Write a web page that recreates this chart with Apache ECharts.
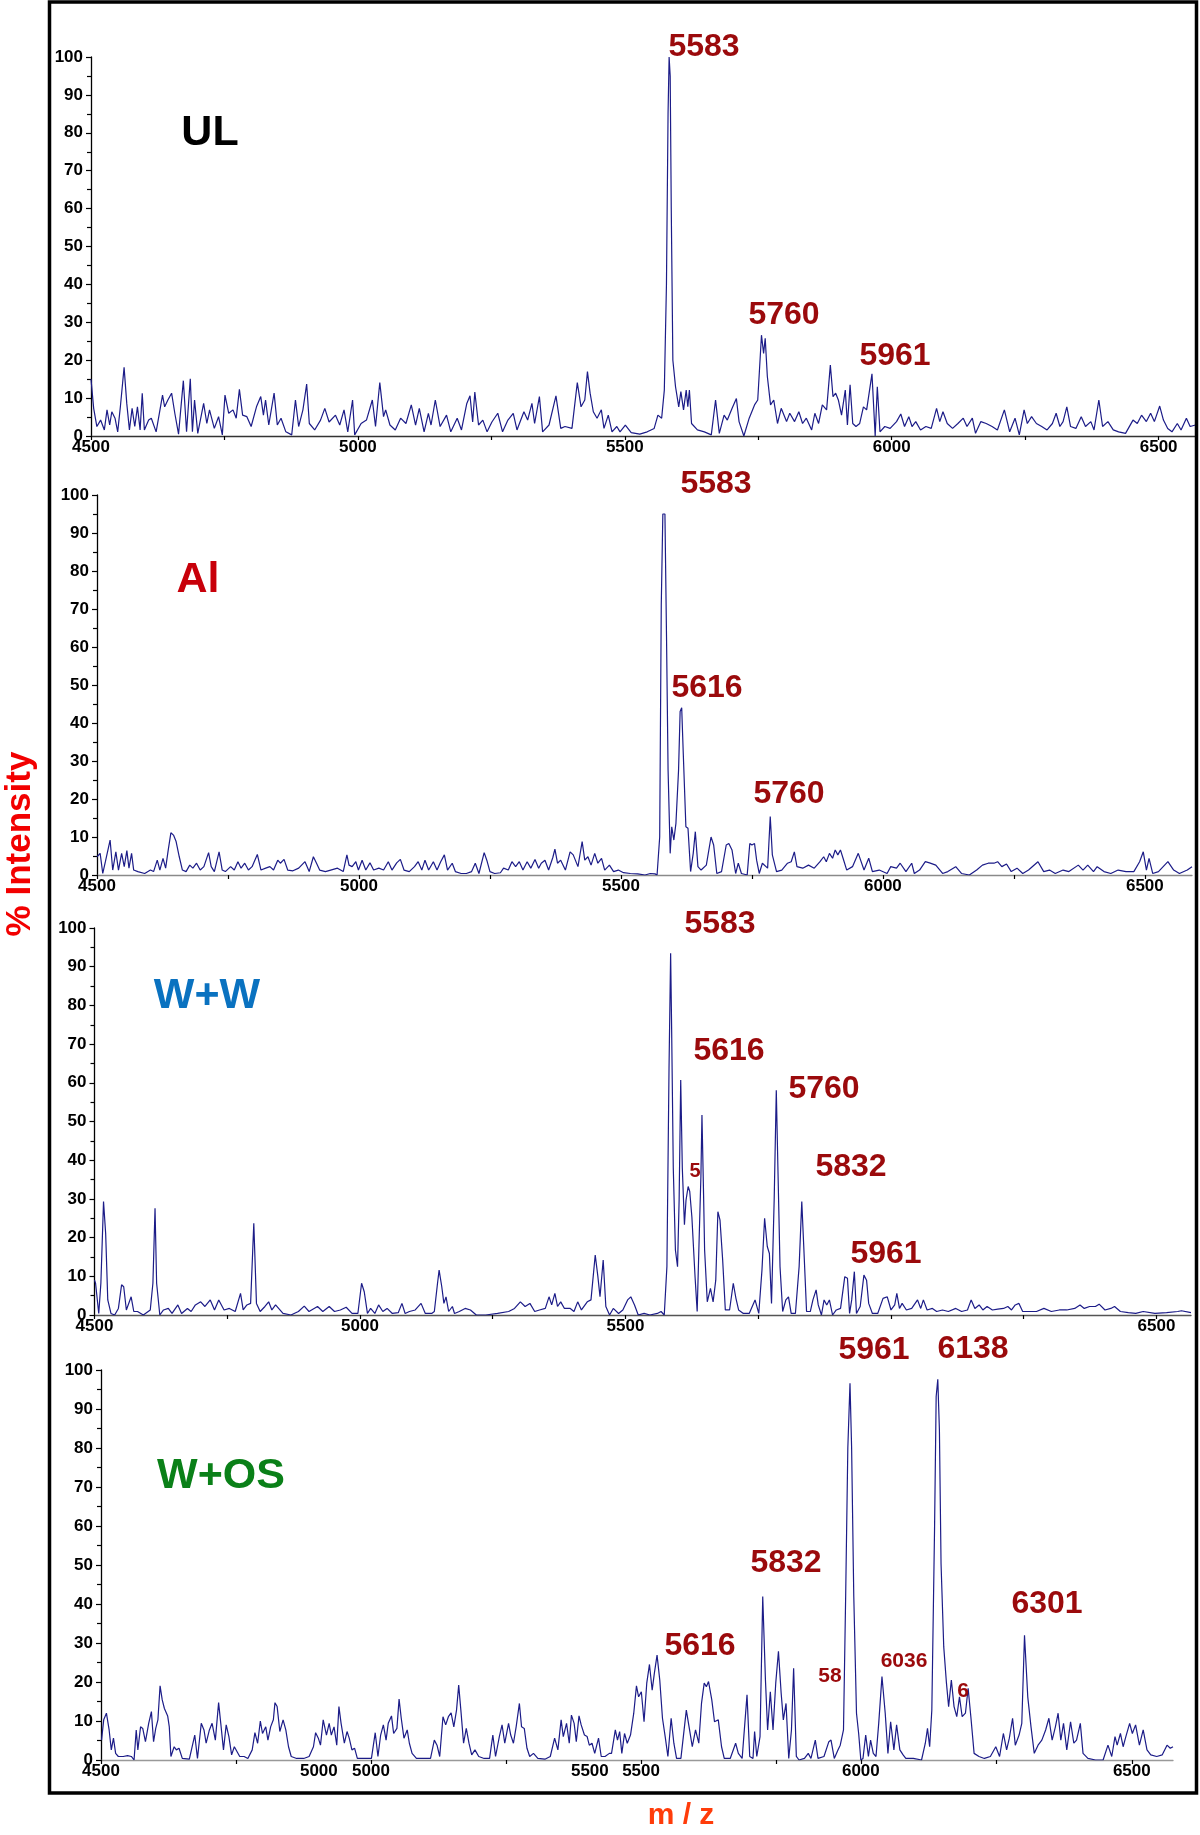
<!DOCTYPE html>
<html><head><meta charset="utf-8">
<script src="https://cdn.jsdelivr.net/npm/echarts@6/dist/echarts.min.js"></script>
<style>html,body{margin:0;padding:0;background:#fff}#c{width:1200px;height:1835px}</style>
</head><body><div id="c"></div>
<script>
// ---------- DATA ----------
const panelNames = ['UL', 'Al', 'W+W', 'W+OS'];
const yTickLabels = [0,10,20,30,40,50,60,70,80,90,100];
const xLabelsStd = [4500,5000,5500,6000,6500];
const xLabelsWW = [4500,5000,5500,6500];
const xTicks250 = [4500,4750,5000,5250,5500,5750,6000,6250,6500];
const xLabelsWOSmain = [5000,5500,6000,6500];
const xTicksWOSmain = [6000,6250,6500];
const xLabelsWOSsecond = [4500,5000,5500];
const xTicksWOSsecond = [4500,4750,5000,5250,5500,5750];

const ulPeaks = ['5583','5760','5961'];
const alPeaks = ['5583','5616','5760'];
const wwPeaks = ['5583','5616','5760','5832','5961'];
const wwMinor = ['5'];
const wosPeaks = ['5961','6138','5832','5616','6301'];
const wosMinor = ['58','6036','6'];

// UL spectrum [m/z, % intensity]
const ulData = [[4500,15],[4505,7.3],[4511,2.5],[4518,4.2],[4525,1.6],[4530,6.9],[4535,2.9],[4539,6.4],[4545,4.7],[4550,1.1],[4555,7.7],[4562,18.1],[4567,8.6],[4572,1.6],[4577,7.3],[4582,2.5],[4587,7.7],[4592,1.6],[4596,11.3],[4600,1.6],[4608,4.2],[4613,4.7],[4622,1.1],[4634,10.8],[4638,7.7],[4644,9.5],[4651,11.3],[4657,6.0],[4664,0.5],[4673,14.6],[4679,1.1],[4686,15.1],[4690,1.1],[4694,9.5],[4700,0.7],[4711,8.6],[4717,3.3],[4722,6.9],[4731,2.0],[4739,5.1],[4746,0.3],[4751,10.8],[4758,6.0],[4766,6.9],[4772,4.7],[4778,12.3],[4784,5.5],[4792,5.1],[4800,2.5],[4810,7.7],[4818,10.4],[4823,5.5],[4827,9.5],[4833,2.9],[4843,11.3],[4849,2.9],[4856,4.7],[4865,1.1],[4876,0.3],[4883,9.5],[4889,2.5],[4897,6.9],[4904,13.7],[4909,3.3],[4919,1.6],[4930,4.2],[4938,7.3],[4946,3.7],[4958,5.5],[4966,2.9],[4974,6.9],[4981,1.1],[4990,9.5],[4994,0.3],[5006,3.3],[5016,4.2],[5027,9.5],[5033,2.5],[5041,14.1],[5048,5.1],[5052,6.9],[5060,2.9],[5070,1.6],[5080,4.7],[5090,3.3],[5100,8.2],[5108,2.9],[5115,7.3],[5124,1.1],[5132,6.0],[5137,2.9],[5145,9.5],[5154,2.5],[5166,5.5],[5174,1.1],[5186,4.7],[5194,1.6],[5204,8.6],[5210,10.6],[5215,3.7],[5219,11.6],[5226,2.9],[5234,4.2],[5242,1.1],[5251,3.7],[5262,6.0],[5271,1.1],[5281,4.2],[5291,6.0],[5298,1.6],[5311,6.4],[5318,4.2],[5326,8.6],[5331,3.3],[5340,10.4],[5346,1.1],[5358,2.9],[5371,10.6],[5380,2.0],[5388,2.5],[5401,2.0],[5411,14.1],[5418,7.7],[5425,9.5],[5430,17.0],[5435,11.3],[5441,6.4],[5448,4.7],[5456,6.9],[5461,2.0],[5469,5.5],[5476,1.1],[5485,2.5],[5491,1.1],[5501,2.9],[5512,0.9],[5528,0.5],[5542,1.1],[5555,2.0],[5562,5.5],[5569,4.7],[5574,12.1],[5578,40],[5581,85],[5583,100],[5585,95],[5587,60],[5590,20],[5595,13.0],[5601,7.7],[5605,11.7],[5610,6.9],[5615,12.1],[5618,7.7],[5621,12.1],[5625,3.3],[5636,1.6],[5649,1.1],[5662,0.3],[5670,9.5],[5677,0.7],[5686,5.5],[5692,4.2],[5701,7.3],[5709,9.9],[5714,3.8],[5723,0],[5733,4.7],[5743,8.2],[5749,9.5],[5756,26.6],[5760,21.8],[5763,25.8],[5767,15.7],[5773,8.2],[5779,9.5],[5786,3.3],[5793,7.3],[5803,3.8],[5809,6.0],[5818,3.8],[5826,6.4],[5833,3.3],[5840,4.7],[5850,1.6],[5856,6.0],[5863,3.3],[5870,8.2],[5878,6.9],[5885,18.7],[5890,10.4],[5895,11.3],[5900,9.5],[5906,5.5],[5913,12.1],[5917,2.9],[5922,13.5],[5927,3.3],[5933,2.5],[5940,3.3],[5947,7.7],[5953,6.9],[5963,16.4],[5969,0],[5973,13.0],[5978,1.1],[5987,2.5],[5997,2.0],[6009,3.8],[6017,5.8],[6024,2.5],[6032,5.1],[6038,2.5],[6045,3.8],[6054,1.6],[6064,2.5],[6074,2.0],[6084,7.3],[6090,3.8],[6096,6.4],[6104,3.3],[6114,2.0],[6124,3.3],[6134,4.7],[6141,2.5],[6151,4.7],[6157,0.7],[6167,3.8],[6177,3.3],[6188,2.5],[6198,1.6],[6211,6.9],[6221,1.1],[6231,4.7],[6239,0.3],[6248,6.9],[6254,3.3],[6262,5.1],[6271,3.3],[6281,2.5],[6291,1.6],[6301,3.3],[6308,6.0],[6315,2.5],[6321,3.8],[6328,7.7],[6335,2.5],[6345,2.0],[6355,5.1],[6363,2.5],[6373,3.8],[6379,1.6],[6388,9.5],[6395,2.5],[6405,3.8],[6415,1.6],[6425,1.1],[6438,0.7],[6452,4.2],[6460,3.3],[6468,5.5],[6477,3.8],[6485,6.0],[6492,3.8],[6502,7.9],[6509,4.2],[6517,2.0],[6525,1.1],[6535,3.3],[6542,1.6],[6552,4.7],[6559,2.5],[6569,2.9]];

// Al spectrum
const alData = [[4500,4.8],[4506,5.7],[4511,0.4],[4516,3.5],[4525,9.2],[4530,1.3],[4536,6.1],[4541,1.3],[4547,5.7],[4552,2.2],[4557,6.4],[4561,1.8],[4566,5.7],[4570,1.3],[4578,0.9],[4591,0.4],[4602,1.3],[4608,0.9],[4615,3.9],[4620,1.3],[4626,4.4],[4631,1.8],[4636,6.6],[4641,11.1],[4646,10.5],[4651,8.8],[4657,4.8],[4663,1.3],[4670,0.9],[4677,2.6],[4683,1.8],[4690,3.1],[4697,1.3],[4704,2.2],[4713,5.9],[4718,2.2],[4724,0.9],[4733,6.1],[4739,1.3],[4745,0.9],[4755,2.2],[4762,1.3],[4769,3.5],[4775,1.8],[4782,3.1],[4789,1.3],[4796,2.2],[4806,5.4],[4813,1.3],[4822,1.8],[4830,2.2],[4837,1.3],[4845,3.9],[4850,3.1],[4857,4.1],[4864,1.3],[4874,1.1],[4885,1.8],[4897,3.5],[4905,0.9],[4913,4.8],[4919,3.1],[4925,1.3],[4936,0.9],[4946,1.3],[4959,1.8],[4970,0.9],[4977,5.3],[4981,2.6],[4987,2.2],[4994,3.5],[4999,1.3],[5006,3.9],[5013,1.3],[5021,3.2],[5028,1.3],[5038,1.8],[5047,1.3],[5056,3.5],[5063,1.3],[5072,3.2],[5079,4.1],[5086,1.3],[5096,0.9],[5106,2.2],[5113,3.5],[5120,1.3],[5126,3.9],[5133,1.3],[5142,3.5],[5149,1.3],[5156,3.5],[5163,5.3],[5169,1.3],[5178,3.1],[5184,0.9],[5195,0.4],[5205,0.4],[5215,0.9],[5222,3.1],[5229,0.4],[5239,5.9],[5244,3.9],[5250,0.9],[5259,0.4],[5270,0.6],[5276,1.8],[5285,1.3],[5292,3.5],[5299,2.2],[5306,3.5],[5313,1.3],[5321,3.5],[5328,1.8],[5336,4.1],[5343,1.8],[5348,3.1],[5355,3.9],[5362,1.3],[5370,4.6],[5374,6.8],[5379,3.1],[5385,3.9],[5394,1.3],[5403,6.1],[5409,5.3],[5418,2.2],[5426,8.8],[5431,3.9],[5437,4.8],[5443,2.6],[5450,5.7],[5456,3.1],[5463,4.4],[5469,1.3],[5478,2.6],[5486,0.9],[5495,1.3],[5505,0.6],[5518,0.4],[5532,0.3],[5546,0],[5556,0.4],[5565,0.3],[5569,0],[5574,10],[5577,71],[5580,95],[5584,95],[5587,63],[5590,27.6],[5594,5.7],[5597,12.7],[5601,9.2],[5605,13.6],[5610,27.6],[5613,43],[5616,44],[5619,32],[5624,12.7],[5628,12.3],[5633,0.9],[5638,5.7],[5642,11.4],[5647,2.2],[5653,1.3],[5663,2.6],[5672,10],[5677,7.9],[5683,0.4],[5692,0.9],[5701,7.9],[5706,8.3],[5712,6.6],[5719,0.4],[5724,3.1],[5730,0.4],[5741,0],[5746,8.3],[5750,7.9],[5755,8.3],[5759,3.9],[5764,0.4],[5770,3.1],[5780,1.8],[5785,15.4],[5789,5.3],[5792,4.8],[5797,0.9],[5807,1.3],[5818,3.1],[5825,3.5],[5831,6.1],[5836,2.2],[5847,1.8],[5858,2.6],[5869,1.8],[5880,3.5],[5887,4.8],[5892,3.5],[5898,5.7],[5904,4.4],[5909,6.6],[5914,5.3],[5919,6.6],[5924,4.4],[5931,1.3],[5942,2.2],[5953,5.7],[5964,1.3],[5973,4.4],[5980,0.9],[5993,1.3],[6008,0.4],[6015,2.2],[6026,1.8],[6033,3.1],[6044,0.9],[6055,3.1],[6060,0.4],[6070,1.3],[6081,3.5],[6089,3.2],[6101,2.6],[6114,0.4],[6124,0.9],[6139,2.2],[6150,0.4],[6165,0],[6179,1.3],[6190,2.6],[6201,3.1],[6212,3.1],[6219,3.5],[6227,2.2],[6236,2.9],[6245,0.9],[6256,1.8],[6267,0.4],[6278,1.3],[6296,3.5],[6307,0.9],[6318,1.3],[6329,0.4],[6344,1.3],[6355,0.9],[6373,2.6],[6382,1.3],[6391,2.6],[6402,0.9],[6409,2.2],[6422,0.9],[6435,0.4],[6449,1.3],[6464,0.9],[6479,0.9],[6490,3.5],[6497,6.1],[6503,1.3],[6508,4.4],[6515,0.4],[6526,0.9],[6544,3.5],[6555,1.3],[6566,0.4],[6581,1.3],[6590,2.2]];

// W+W spectrum
const wwData = [[4500,9],[4502,8.2],[4508,0.4],[4512,8.2],[4517,29.3],[4521,21.1],[4525,3.9],[4531,0.4],[4538,0],[4545,1.7],[4551,7.8],[4555,7.3],[4560,1.3],[4569,4.7],[4574,0.9],[4581,0.9],[4592,0],[4605,1.3],[4610,8.2],[4614,27.6],[4617,8.2],[4623,0],[4630,1.3],[4639,1.7],[4646,0.4],[4657,2.6],[4664,0.4],[4675,1.7],[4682,0.9],[4690,2.6],[4700,3.4],[4708,2.2],[4718,3.9],[4726,1.3],[4734,3.9],[4744,1.3],[4754,1.7],[4765,0.9],[4775,5.6],[4780,1.3],[4787,2.6],[4794,3.0],[4800,23.7],[4805,3.0],[4812,0.9],[4821,2.2],[4828,3.4],[4834,1.3],[4841,2.6],[4855,0.4],[4870,0],[4884,0.9],[4895,2.3],[4904,0.9],[4920,2.2],[4930,0.9],[4942,2.2],[4952,0.9],[4963,1.3],[4974,2.0],[4985,0.4],[4996,0.4],[5003,8.2],[5008,6.0],[5014,0.4],[5020,1.7],[5028,0.4],[5035,2.6],[5043,0.9],[5051,1.7],[5061,0.4],[5072,0.6],[5079,3.0],[5085,0.4],[5093,0.9],[5104,1.3],[5115,3.0],[5123,0.4],[5135,0.4],[5140,0.9],[5146,8.2],[5149,11.6],[5154,7.3],[5158,3.0],[5162,4.7],[5167,0.9],[5174,2.2],[5178,0.4],[5187,0.9],[5198,1.7],[5208,1.3],[5219,0],[5237,0],[5259,0.4],[5280,0.9],[5291,1.7],[5302,3.4],[5311,2.2],[5320,3.0],[5329,0.9],[5338,1.3],[5349,1.7],[5356,4.7],[5361,2.6],[5367,5.6],[5372,2.2],[5378,3.4],[5385,1.7],[5396,1.7],[5403,0.9],[5410,3.4],[5417,1.3],[5428,3.4],[5435,3.9],[5443,15.5],[5448,9.9],[5452,4.7],[5458,14.2],[5463,2.2],[5470,0],[5477,1.7],[5487,0.4],[5495,1.3],[5504,3.9],[5510,4.7],[5517,2.6],[5524,0],[5535,0.4],[5546,0],[5560,0.4],[5567,0.9],[5573,0],[5578,12.5],[5582,64],[5585,93.5],[5587,72.8],[5590,38],[5594,16.8],[5598,12.5],[5601,29.7],[5604,60.7],[5607,38],[5611,23.3],[5614,29.7],[5618,33.2],[5621,31.9],[5625,25.4],[5631,9.9],[5635,0.9],[5639,21.1],[5642,35.7],[5644,51.7],[5647,31.4],[5649,16.8],[5654,3.4],[5660,6.9],[5665,3.4],[5670,9],[5674,26.7],[5678,24.5],[5683,14.2],[5688,1.3],[5696,1.3],[5703,8.2],[5708,4.3],[5713,1.3],[5722,0.4],[5733,0.4],[5744,3.9],[5751,0.4],[5757,11.6],[5762,25],[5767,17.7],[5771,15.9],[5775,3.0],[5780,29.7],[5784,58.1],[5787,38.3],[5791,12.5],[5796,0.9],[5802,3.9],[5807,4.7],[5812,0.4],[5820,0.4],[5827,12.5],[5832,29.3],[5836,16.8],[5841,0.9],[5848,0.9],[5853,3.9],[5859,6.5],[5863,2.6],[5869,0],[5874,3.9],[5879,2.6],[5884,3.9],[5890,0],[5897,1.3],[5905,1.7],[5913,9.9],[5918,9.5],[5922,0.4],[5926,3.9],[5931,11.2],[5935,0.4],[5942,2.2],[5949,10.3],[5954,9],[5958,3.0],[5965,0.4],[5975,0.4],[5985,4.3],[5993,4.7],[6000,1.3],[6007,2.6],[6011,5.6],[6016,1.7],[6021,3.0],[6029,1.3],[6039,1.7],[6050,3.9],[6056,1.7],[6061,3.9],[6068,1.3],[6078,1.7],[6086,0.9],[6097,1.3],[6108,0.9],[6122,1.7],[6133,0.9],[6144,1.3],[6151,3.9],[6158,1.7],[6166,2.6],[6173,1.3],[6181,2.2],[6191,1.3],[6201,1.5],[6212,1.7],[6220,2.2],[6227,1.3],[6234,2.6],[6241,3.0],[6248,0.9],[6259,0.9],[6274,0.9],[6288,1.7],[6302,0.9],[6317,1.3],[6331,1.3],[6346,1.7],[6356,2.6],[6364,1.7],[6374,2.2],[6385,2.2],[6392,2.8],[6403,1.3],[6414,1.7],[6421,2.2],[6432,0.9],[6447,0.6],[6461,0.4],[6475,0.9],[6497,0.4],[6519,0.6],[6540,0.9],[6547,1.1],[6565,0.6]];

// W+OS spectrum (plotted on the panel's main m/z scale)
const wosData = [[4599,5.1],[4603,10.3],[4608,12],[4613,7.7],[4617,2.6],[4621,5.6],[4625,1.7],[4630,0.9],[4639,0.9],[4647,1.1],[4654,0.9],[4659,0],[4663,7.7],[4666,2.6],[4671,8.5],[4675,8.1],[4680,4.7],[4686,9.4],[4691,12.4],[4695,4.7],[4699,8.1],[4703,10.3],[4707,19],[4711,15.4],[4715,13.2],[4721,11.3],[4724,8.5],[4727,0.9],[4733,3.4],[4737,2.6],[4742,3],[4748,0.4],[4761,0.2],[4771,6.4],[4776,0.4],[4783,9.4],[4788,7.7],[4792,4.3],[4798,7.7],[4803,9.4],[4809,5.1],[4815,14.7],[4819,9.4],[4824,2.6],[4829,9],[4834,6],[4839,1.3],[4844,3.4],[4854,0.9],[4862,0.9],[4869,0.4],[4877,2.6],[4882,7],[4887,4.3],[4892,10],[4896,6.8],[4902,8.5],[4906,5.1],[4911,8.5],[4916,10.3],[4919,14.7],[4923,13.7],[4928,7.3],[4934,10.3],[4939,7.7],[4944,3.4],[4949,0.9],[4959,0.4],[4972,0.4],[4982,0.9],[4990,3.4],[4994,7],[4999,5.6],[5003,3.8],[5008,10.3],[5014,6.4],[5019,9.4],[5023,6.4],[5028,8.5],[5033,3.8],[5037,13.7],[5041,9.4],[5047,4.3],[5052,7.3],[5056,5.6],[5061,2.6],[5066,3],[5071,0.4],[5087,0.4],[5097,0.4],[5104,7],[5109,0.9],[5114,6.4],[5119,9],[5124,5.1],[5128,9.4],[5134,11.3],[5138,6.8],[5144,8.1],[5148,15.6],[5152,10.7],[5157,5.6],[5163,7.7],[5167,4.3],[5172,1.7],[5180,0.4],[5193,0.4],[5206,0.4],[5213,5.1],[5218,3.8],[5223,0.9],[5229,11.1],[5234,9],[5239,11.1],[5244,12.1],[5249,8.5],[5254,12.8],[5258,19.2],[5262,12.8],[5267,4.3],[5272,8.1],[5277,4.3],[5282,1.3],[5288,2.6],[5295,0.9],[5305,0.4],[5315,0.4],[5321,6.4],[5326,0.9],[5333,6],[5338,9],[5343,4.3],[5350,9.4],[5354,6.4],[5359,4.3],[5364,8.5],[5370,14.5],[5374,8.5],[5379,8.1],[5384,3],[5389,0.9],[5396,1.7],[5404,0.4],[5417,0.2],[5427,0.9],[5435,5.6],[5441,2.6],[5447,10.3],[5451,6],[5457,9.4],[5462,4.3],[5466,11.5],[5471,9.4],[5475,4.7],[5480,11.3],[5484,9],[5490,6.4],[5495,6],[5499,3.8],[5504,4.3],[5509,1.7],[5516,5.6],[5521,0.9],[5528,0.9],[5536,1.7],[5540,1.7],[5547,7.7],[5551,5.1],[5555,7.3],[5559,1.7],[5564,6.8],[5569,4.3],[5575,6.4],[5581,12],[5586,19],[5590,16.2],[5595,17.5],[5600,9.8],[5605,19.7],[5610,24.5],[5615,17.9],[5619,22.2],[5624,26.9],[5629,20.5],[5634,10.7],[5639,6],[5644,0.9],[5650,10.7],[5655,4.3],[5660,0.4],[5668,0.4],[5678,12.8],[5684,7.7],[5689,3.4],[5695,7.7],[5701,4.3],[5706,14.5],[5711,19.7],[5715,18.8],[5719,20.1],[5725,15.4],[5730,9.8],[5737,10.3],[5743,3.4],[5748,0.4],[5759,0.4],[5769,4.3],[5774,1.7],[5781,0.4],[5790,16.7],[5795,0.9],[5801,0.4],[5804,7.3],[5808,0.9],[5814,6],[5819,41.9],[5824,20.5],[5828,7.7],[5833,17.5],[5838,7.7],[5843,19.7],[5848,27.9],[5853,17.1],[5857,10.3],[5862,14.5],[5867,0.4],[5872,7.7],[5876,23.5],[5881,0.9],[5886,0],[5896,0.4],[5903,1.7],[5908,0.4],[5916,5.1],[5921,0.4],[5932,0.9],[5941,4.7],[5945,5.1],[5951,0.4],[5958,2.6],[5962,3.8],[5968,7.7],[5972,41.9],[5976,80],[5980,96.6],[5983,80],[5987,41.9],[5992,12],[5996,6.8],[6000,0],[6004,0.4],[6009,6.4],[6014,0.9],[6018,5.1],[6023,1.7],[6028,0.9],[6033,9.4],[6039,21.4],[6045,12],[6050,1.7],[6055,9.8],[6061,2.6],[6066,9],[6072,2.6],[6078,1.3],[6083,0.4],[6097,0.4],[6112,0],[6119,4.3],[6123,8.1],[6127,3.4],[6131,12.8],[6136,59],[6139,93.2],[6142,97.6],[6145,84.6],[6148,50.4],[6153,29],[6158,19.7],[6162,13.7],[6167,20.5],[6172,13.7],[6177,11.1],[6182,16.2],[6187,11.1],[6193,12],[6198,18.4],[6203,11.1],[6209,1.7],[6218,0.9],[6228,0.4],[6239,0.9],[6249,3.4],[6256,0.9],[6263,6.8],[6269,2.6],[6274,5.6],[6280,10.7],[6285,3.8],[6292,6.4],[6297,9.4],[6302,32],[6308,16.2],[6314,8.5],[6320,1.7],[6327,3.8],[6334,5.1],[6341,7.7],[6347,10.7],[6353,5.1],[6359,8.5],[6364,12],[6369,5.1],[6374,9.4],[6380,2.6],[6387,9.8],[6393,4.3],[6398,5.1],[6405,9.4],[6410,1.7],[6419,0.4],[6433,0],[6447,0],[6456,3.8],[6463,0.9],[6469,6],[6473,3.8],[6479,6.8],[6484,3.4],[6489,6],[6496,9.4],[6501,6.8],[6507,9],[6514,3.8],[6521,7.7],[6528,2.6],[6535,1.3],[6546,0.9],[6556,1.3],[6565,3.8],[6571,3],[6576,3.4]];

// ---------- LAYOUT / STYLE ----------
const LINE = '#1c1c88';
const PEAK = '#9b0a0c';
const tickFont = "'Liberation Sans Narrow','Liberation Sans',Arial,sans-serif";
const labFont = "'Liberation Sans',Arial,sans-serif";

const grids = [
  {left:91, top:57, width:1105, height:379},
  {left:97, top:495, width:1095, height:380},
  {left:94.5, top:928, width:1096.5, height:387},
  {left:101, top:1370, width:1072, height:390}
];

const plainNum = v => String(Math.round(v));

function yAxisFor(i){
  return {
    type:'value', gridIndex:i, min:0, max:100, interval:10,
    axisLine:{show:true, lineStyle:{color:'#000', width:1.3}},
    axisTick:{show:true, inside:false, length:5, lineStyle:{color:'#000', width:1.2}},
    minorTick:{show:true, splitNumber:2, length:4, lineStyle:{color:'#000', width:1.2}},
    splitLine:{show:false}, minorSplitLine:{show:false},
    axisLabel:{show:true, margin:8, color:'#000', fontFamily:tickFont, fontWeight:'bold', fontSize:17,
      customValues: yTickLabels, formatter: plainNum}
  };
}
function xAxisFor(i, min, max, labels, ticks, lineColor, showLine){
  return {
    type:'value', gridIndex:i, min:min, max:max, position:'bottom',
    axisLine:{show:showLine, onZero:false, lineStyle:{color:lineColor, width:1.3}},
    axisTick:{show:true, inside:false, length:4, lineStyle:{color:'#000', width:1.2}, customValues:ticks},
    splitLine:{show:false},
    axisLabel:{show:true, margin:3, color:'#000', fontFamily:tickFont, fontWeight:'bold', fontSize:17,
      customValues:labels, formatter: plainNum, showMinLabel:true, showMaxLabel:true}
  };
}

const xAxes = [
  xAxisFor(0, 4500, 6570, xLabelsStd, xTicks250, '#333', true),
  xAxisFor(1, 4500, 6590, xLabelsStd, xTicks250, '#8a8a8a', true),
  xAxisFor(2, 4500, 6565, xLabelsWW, xTicks250, '#555', true),
  xAxisFor(3, 4598, 6576, xLabelsWOSmain, xTicksWOSmain, '#999', true),
  xAxisFor(3, 4500, 6485, xLabelsWOSsecond, xTicksWOSsecond, '#999', false)
];
const yAxes = [0,1,2,3].map(yAxisFor);

const spectra = [ulData, alData, wwData, wosData];
const series = spectra.map((d, i) => ({
  type:'line', xAxisIndex:i, yAxisIndex:i, data:d, showSymbol:false, symbol:'none',
  lineStyle:{color:LINE, width:1.2}, silent:true, animation:false, clip:true
}));

function txt(text, x, y, size, color, extra){
  return Object.assign({
    type:'text', x:x, y:y, silent:true, z:100,
    style:{text:text, fill:color, font:'bold '+size+'px '+labFont,
      align:'center', verticalAlign:'middle', textAlign:'center', textVerticalAlign:'middle'}
  }, extra || {});
}

const nameColors = ['#000000', '#c8000a', '#0a72c0', '#0a8018'];
const namePos = [[210,133],[198,580],[207,996],[221,1476]];
const ulPos = [[704,47],[784,315],[895,356]];
const alPos = [[716,484],[707,688],[789,794]];
const wwPos = [[720,924],[729,1051],[824,1089],[851,1167],[886,1254]];
const wwMinorPos = [[695,1171]];
const wosPos = [[874,1350],[973,1349],[786,1563],[700,1646],[1047,1604]];
const wosMinorPos = [[830,1676],[904,1661],[963,1691]];

const graphics = [];
graphics.push({type:'rect', shape:{x:49.5, y:2, width:1147, height:1791},
  style:{fill:'none', stroke:'#000', lineWidth:3.5}, silent:true, z:90});
panelNames.forEach((n,i)=>graphics.push(txt(n, namePos[i][0], namePos[i][1], 43, nameColors[i])));
ulPeaks.forEach((t,i)=>graphics.push(txt(t, ulPos[i][0], ulPos[i][1], 32, PEAK)));
alPeaks.forEach((t,i)=>graphics.push(txt(t, alPos[i][0], alPos[i][1], 32, PEAK)));
wwPeaks.forEach((t,i)=>graphics.push(txt(t, wwPos[i][0], wwPos[i][1], 32, PEAK)));
wwMinor.forEach((t,i)=>graphics.push(txt(t, wwMinorPos[i][0], wwMinorPos[i][1], 20, PEAK)));
wosPeaks.forEach((t,i)=>graphics.push(txt(t, wosPos[i][0], wosPos[i][1], 32, PEAK)));
wosMinor.forEach((t,i)=>graphics.push(txt(t, wosMinorPos[i][0], wosMinorPos[i][1], 21, PEAK)));
graphics.push(txt('% Intensity', 20, 844, 35, '#f20000', {rotation: Math.PI/2}));
graphics.push(txt('m / z', 681, 1816, 30, '#ff3c0a'));

const chart = echarts.init(document.getElementById('c'), null, {renderer:'canvas'});
chart.setOption({
  animation:false,
  backgroundColor:'#fff',
  grid: grids.map(g => Object.assign({containLabel:false, outerBoundsMode:'none'}, g)),
  xAxis: xAxes,
  yAxis: yAxes,
  series: series,
  graphic: graphics
});
</script>
</body></html>
